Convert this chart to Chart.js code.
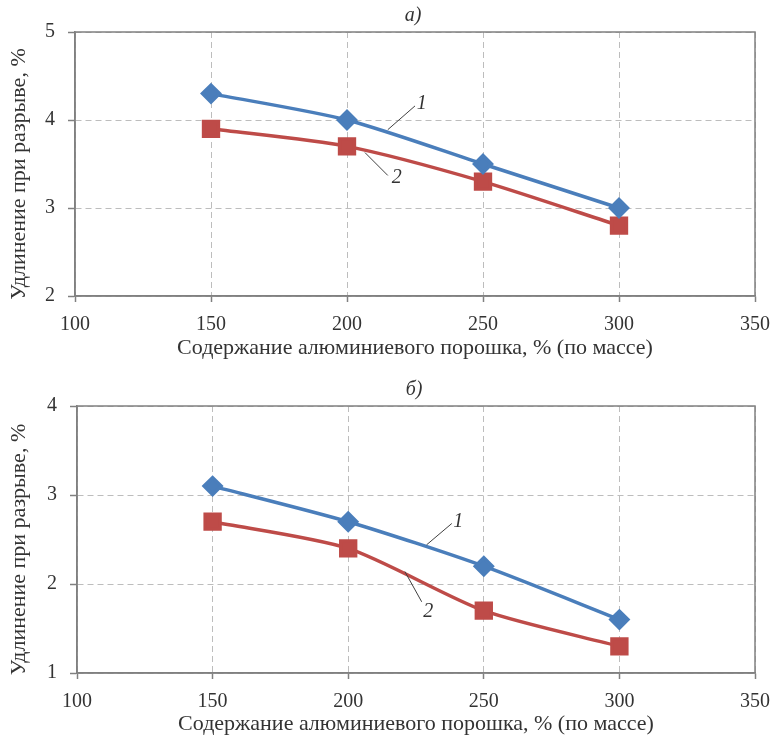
<!DOCTYPE html>
<html><head><meta charset="utf-8">
<script src="https://cdn.jsdelivr.net/npm/chart.js@4.4.0/dist/chart.umd.min.js"></script>
<style>
html,body{margin:0;padding:0;background:#fff;}
.wrap{position:absolute;left:0;width:774px;}
</style></head>
<body>
<div class="wrap" style="top:0;height:362px;"><canvas id="c1"></canvas></div>
<div class="wrap" style="top:370px;height:368px;"><canvas id="c2"></canvas></div>
<script>
// Data
const xTicks = [100, 150, 200, 250, 300, 350];
const categories = [150, 200, 250, 300];
const a_series1 = [4.3, 4.0, 3.5, 3.0];
const a_series2 = [3.9, 3.7, 3.3, 2.8];
const b_series1 = [3.1, 2.7, 2.2, 1.6];
const b_series2 = [2.7, 2.4, 1.7, 1.3];
const a_yTicks = [2, 3, 4, 5];
const b_yTicks = [1, 2, 3, 4];
const xTitle = 'Содержание алюминиевого порошка, % (по массе)';
const yTitle = 'Удлинение при разрыве, %';

const BLUE = '#4a7ebb', RED = '#be4b48';
const TXT = '#333333';
const FONT = "'Liberation Serif', 'DejaVu Serif', serif";

const framePlugin = {
  id: 'frame',
  afterDraw(chart, args, opts) {
    const {ctx, chartArea: a, scales} = chart;
    ctx.save();
    ctx.fillStyle = TXT;
    ctx.font = 'italic 20px ' + FONT;
    ctx.textAlign = 'center';
    ctx.textBaseline = 'middle';
    ctx.fillText(opts.title, (a.left + a.right) / 2 - 2, a.top - opts.titleOffset);
    // y axis title
    ctx.save();
    ctx.translate(19, (a.top + a.bottom) / 2 + 10);
    ctx.rotate(-Math.PI / 2);
    ctx.font = '22px ' + FONT;
    ctx.fillText(yTitle, 0, 0);
    ctx.restore();
    (opts.notes || []).forEach(n => {
      ctx.strokeStyle = '#404040';
      ctx.lineWidth = 1;
      ctx.beginPath();
      ctx.moveTo(scales.x.getPixelForValue(n.from[0]), scales.y.getPixelForValue(n.from[1]));
      ctx.lineTo(scales.x.getPixelForValue(n.to[0]), scales.y.getPixelForValue(n.to[1]));
      ctx.stroke();
      ctx.fillStyle = TXT;
      ctx.font = 'italic 20px ' + FONT;
      ctx.fillText(n.text, scales.x.getPixelForValue(n.at[0]), scales.y.getPixelForValue(n.at[1]));
    });
    ctx.restore();
  },
  beforeDatasetsDraw(chart) {
    const {ctx, chartArea: a} = chart;
    ctx.save();
    ctx.strokeStyle = '#808080';
    ctx.lineWidth = 1.5;
    ctx.strokeRect(a.left, a.top, a.right - a.left, a.bottom - a.top);
    ctx.restore();
  }
};

function makeChart(id, s1, s2, yTicks, padTop, yWidth, xHeight, notes) {
  const ymin = yTicks[0], ymax = yTicks[yTicks.length - 1];
  return new Chart(document.getElementById(id), {
    type: 'line',
    data: {
      datasets: [
        { data: categories.map((x, i) => ({x, y: s1[i]})), borderColor: BLUE, backgroundColor: BLUE,
          borderWidth: 3.5, pointStyle: 'rectRot', pointRadius: 8.5, pointHoverRadius: 8.5, tension: 0.25 },
        { data: categories.map((x, i) => ({x, y: s2[i]})), borderColor: RED, backgroundColor: RED,
          borderWidth: 3.5, pointStyle: 'rect', pointRadius: 10.5, pointHoverRadius: 10.5, tension: 0.25 }
      ]
    },
    options: {
      responsive: true, maintainAspectRatio: false, animation: false,
      layout: { padding: { top: padTop, right: 19, left: 0, bottom: 0 } },
      plugins: { legend: { display: false }, tooltip: { enabled: false },
        frame: { title: id === 'c1' ? 'а)' : 'б)', titleOffset: 16, notes } },
      scales: {
        x: {
          type: 'linear', min: 100, max: 350,
          afterBuildTicks: s => { s.ticks = xTicks.map(v => ({value: v})); },
          afterFit: s => { s.height = xHeight; s.paddingLeft = 0; s.paddingRight = 0; },
          ticks: { color: TXT, font: { family: FONT, size: 20 }, padding: 11 },
          grid: { color: '#bdbdbd', lineWidth: 1, tickLength: 6, tickColor: '#808080', tickWidth: 1.5 },
          border: { color: '#808080', width: 1.5, dash: [6, 4] },
          title: { display: true, text: xTitle, color: TXT, font: { family: FONT, size: 22 }, padding: { top: 0, bottom: 1 } }
        },
        y: {
          type: 'linear', min: ymin, max: ymax,
          afterBuildTicks: s => { s.ticks = yTicks.map(v => ({value: v})); },
          afterFit: s => { s.width = yWidth; s.paddingTop = 0; s.paddingBottom = 0; },
          ticks: { color: TXT, font: { family: FONT, size: 20 }, padding: 13 },
          grid: { color: '#bdbdbd', lineWidth: 1, tickLength: 7, tickColor: '#808080', tickWidth: 1.5 },
          border: { color: '#808080', width: 1.5, dash: [6, 4] },
          title: { display: false }
        }
      }
    },
    plugins: [framePlugin]
  });
}

makeChart('c1', a_series1, a_series2, a_yTicks, 32, 75, 66, [
  { text: '1', at: [227.5, 4.19], from: [215, 3.89], to: [225, 4.16] },
  { text: '2', at: [218.3, 3.34], from: [206.6, 3.63], to: [215, 3.37] }
]);
makeChart('c2', b_series1, b_series2, b_yTicks, 36, 77, 65, [
  { text: '1', at: [240.6, 2.70], from: [228.9, 2.44], to: [238.2, 2.68] },
  { text: '2', at: [229.5, 1.69], from: [220.9, 2.14], to: [227.1, 1.80] }
]);
</script>
</body></html>
